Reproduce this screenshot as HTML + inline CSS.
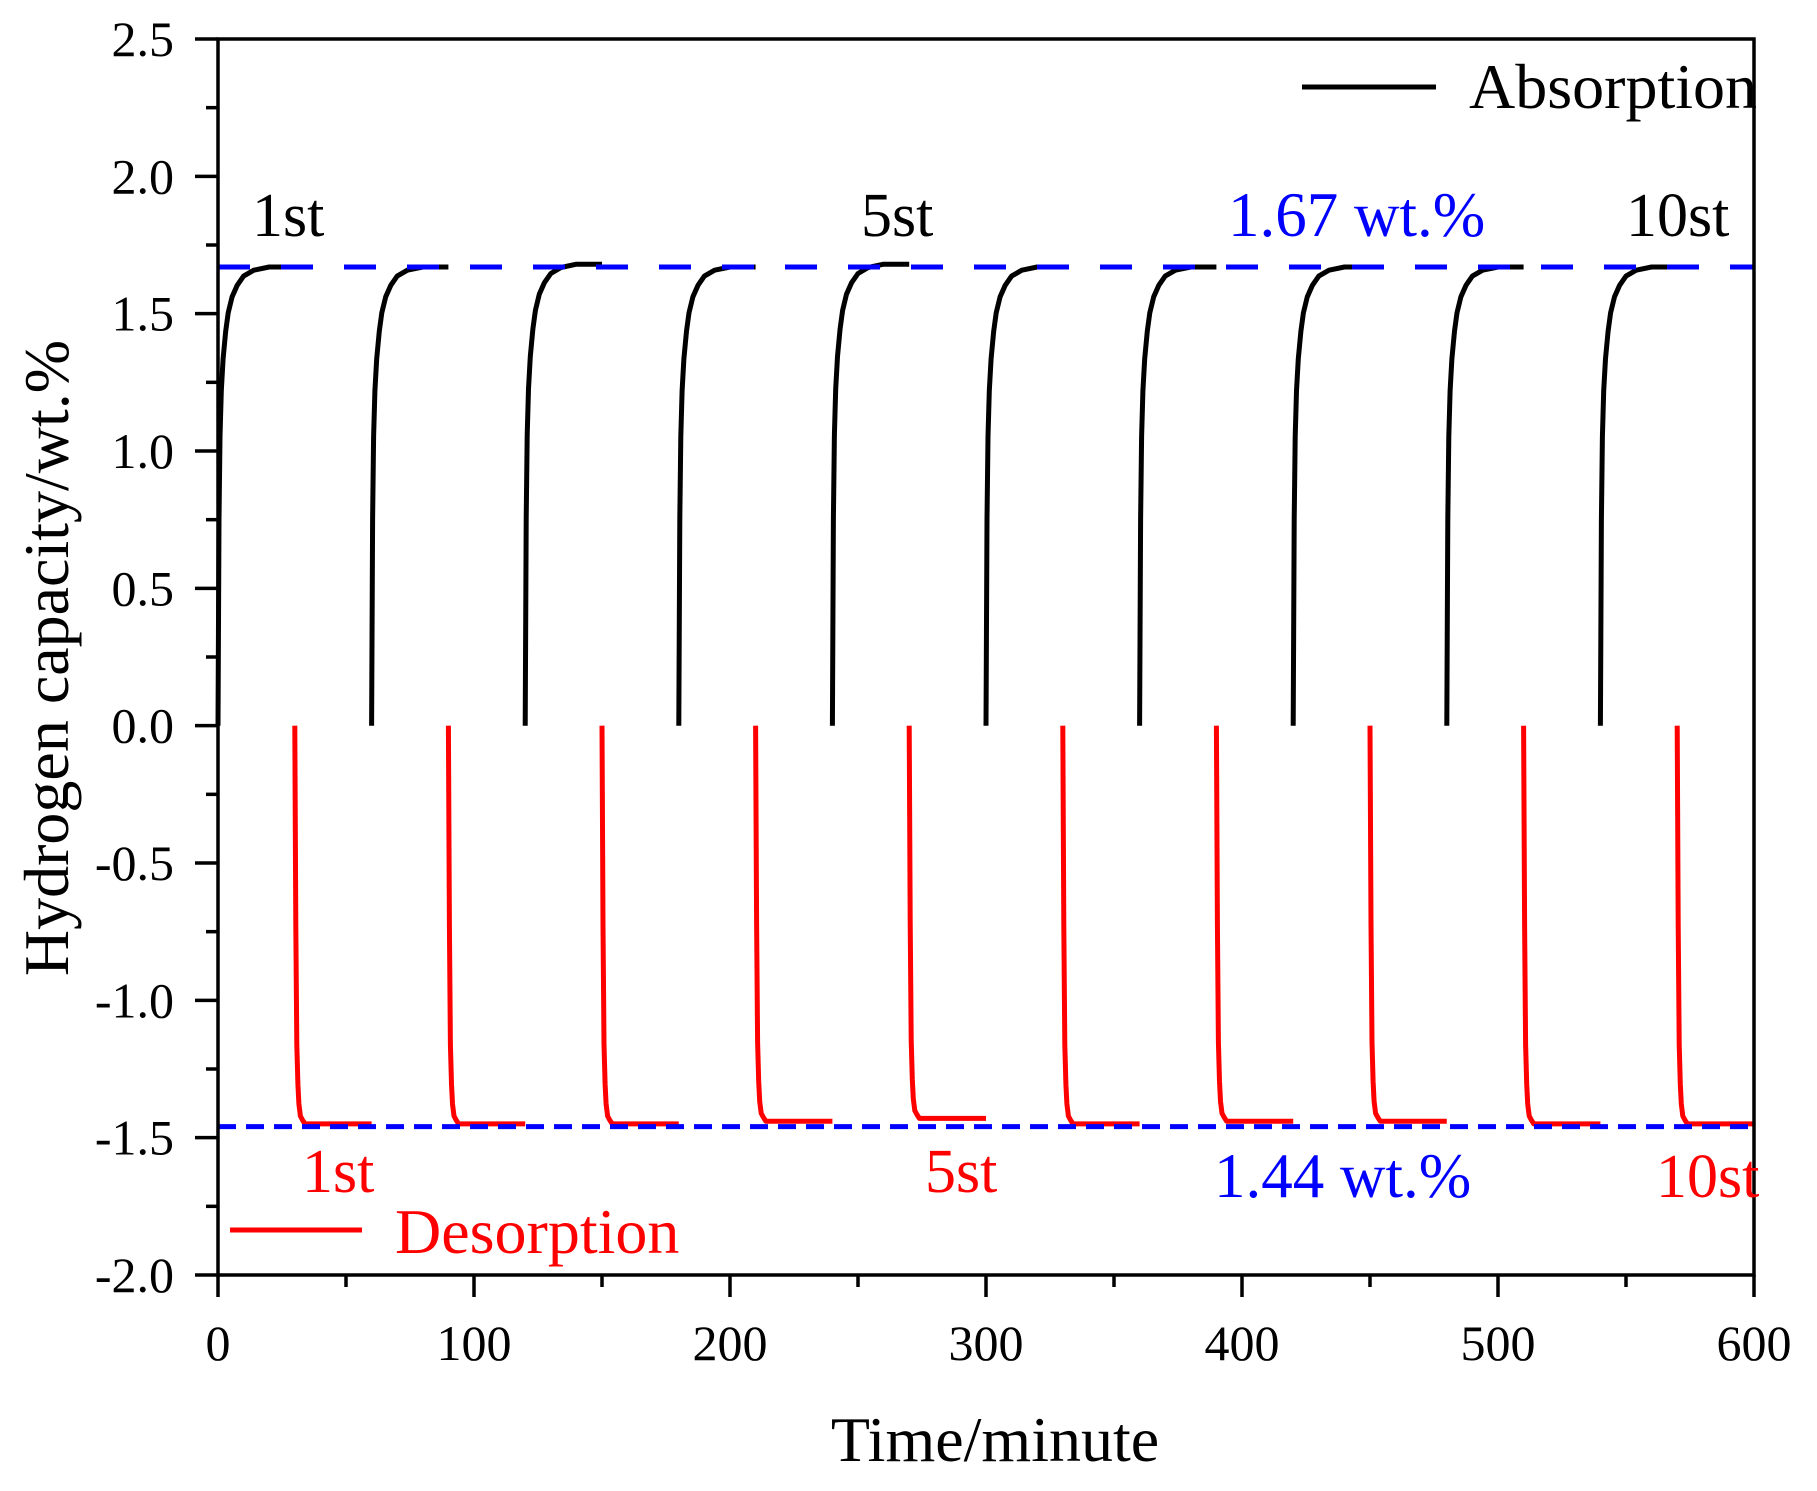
<!DOCTYPE html>
<html><head><meta charset="utf-8"><style>
html,body{margin:0;padding:0;background:#fff;}
svg text{font-family:"Liberation Serif",serif;}
</style></head><body>
<svg id="chart" width="1817" height="1486" viewBox="0 0 1817 1486" xmlns="http://www.w3.org/2000/svg">
<g id="marks"></g>
<g id="axes"></g>
<text transform="translate(68,658) rotate(-90)" text-anchor="middle" font-size="64">Hydrogen capacity/wt.%</text>
<text x="995" y="1461" text-anchor="middle" font-size="64">Time/minute</text>
<line x1="1302" y1="87" x2="1436" y2="87" stroke="#000" stroke-width="5"/>
<text x="1469" y="108" font-size="64">Absorption</text>
<line x1="230" y1="1230" x2="362" y2="1230" stroke="#f00" stroke-width="5"/>
<text x="395" y="1253" font-size="64" fill="#f00">Desorption</text>
<text x="252" y="236" font-size="62">1st</text>
<text x="861" y="236" font-size="62">5st</text>
<text x="1228" y="236" font-size="63" fill="#00f">1.67 wt.%</text>
<text x="1626" y="236" font-size="62">10st</text>
<text x="302" y="1192" font-size="62" fill="#f00">1st</text>
<text x="925" y="1192" font-size="62" fill="#f00">5st</text>
<text x="1214" y="1197" font-size="63" fill="#00f">1.44 wt.%</text>
<text x="1656" y="1197" font-size="62" fill="#f00">10st</text>
</svg>
<script>
const xTicks=[0,100,200,300,400,500,600];
const yTicks=[-2.0,-1.5,-1.0,-0.5,0.0,0.5,1.0,1.5,2.0,2.5];
const absStarts=[0,60,120,180,240,300,360,420,480,540];
const absPlateaus=[1.67,1.67,1.68,1.67,1.68,1.67,1.67,1.67,1.67,1.67];
const desStarts=[30,90,150,210,270,330,390,450,510,570];
const desPlateaus=[-1.45,-1.45,-1.45,-1.44,-1.43,-1.45,-1.44,-1.44,-1.45,-1.45];
const absShapeT=[0,0.4,0.8,1.3,2,3,4,5.5,7.5,10,14,20,30];
const absShapeV=[0,0.45,0.63,0.73,0.8,0.86,0.9,0.935,0.96,0.98,0.993,1,1];
const desShapeT=[0,0.4,0.8,1.2,1.6,2.2,3,4,6,30];
const desShapeV=[0,0.5,0.8,0.9,0.95,0.98,0.99,1,1,1];
const refUpper=1.67, refLower=-1.46;

const X0=218,X1=1754,Y0=1275,Y1=39;
const sx=v=>X0+(v-0)/(600-0)*(X1-X0);
const sy=v=>Y0-(v+2)/(4.5)*(Y0-Y1);
const NS="http://www.w3.org/2000/svg";
const marks=document.getElementById('marks'), axes=document.getElementById('axes');
function mk(tag,attrs,parent){const e=document.createElementNS(NS,tag);for(const k in attrs)e.setAttribute(k,attrs[k]);parent.appendChild(e);return e;}

absStarts.forEach((s,i)=>{
  const d=absShapeT.map((t,j)=>(j?'L':'M')+sx(s+t).toFixed(1)+','+sy(absPlateaus[i]*absShapeV[j]).toFixed(1)).join('');
  const p=mk('path',{d:d,fill:'none',stroke:'#000','stroke-width':5,'stroke-linejoin':'round'},marks);
  
  
});
desStarts.forEach((s,i)=>{
  const d=desShapeT.map((t,j)=>(j?'L':'M')+sx(s+t).toFixed(1)+','+sy(desPlateaus[i]*desShapeV[j]).toFixed(1)).join('');
  const p=mk('path',{d:d,fill:'none',stroke:'#f00','stroke-width':5,'stroke-linejoin':'round'},marks);
  
  
});
const ru=mk('line',{x1:X0,x2:X1,y1:sy(refUpper),y2:sy(refUpper),stroke:'#00f','stroke-width':5,'stroke-dasharray':'32 31'},marks);


const rl=mk('line',{x1:X0,x2:X1,y1:sy(refLower),y2:sy(refLower),stroke:'#00f','stroke-width':5,'stroke-dasharray':'18 10'},marks);



const frame=mk('rect',{x:X0,y:Y1,width:X1-X0,height:Y0-Y1,fill:'none',stroke:'#000','stroke-width':3.5},axes);


xTicks.forEach((v,i)=>{
  const t=mk('line',{x1:sx(v),x2:sx(v),y1:Y0,y2:Y0+22,stroke:'#000','stroke-width':3.5},axes);
  
  
  const l=mk('text',{x:sx(v),y:1360,'text-anchor':'middle','font-size':50},axes);
  l.textContent=String(v);
  
  
  if(i<xTicks.length-1){
    const m=mk('line',{x1:sx(v+50),x2:sx(v+50),y1:Y0,y2:Y0+12,stroke:'#000','stroke-width':3.5},axes);
    
    
  }
});
yTicks.forEach((v,i)=>{
  const t=mk('line',{x1:X0-23,x2:X0,y1:sy(v),y2:sy(v),stroke:'#000','stroke-width':3.5},axes);
  
  
  const l=mk('text',{x:174,y:sy(v)+17,'text-anchor':'end','font-size':50},axes);
  l.textContent=v.toFixed(1);
  
  
  if(i<yTicks.length-1){
    const m=mk('line',{x1:X0-12,x2:X0,y1:sy(v+0.25),y2:sy(v+0.25),stroke:'#000','stroke-width':3.5},axes);
    
    
  }
});
</script>
</body></html>
